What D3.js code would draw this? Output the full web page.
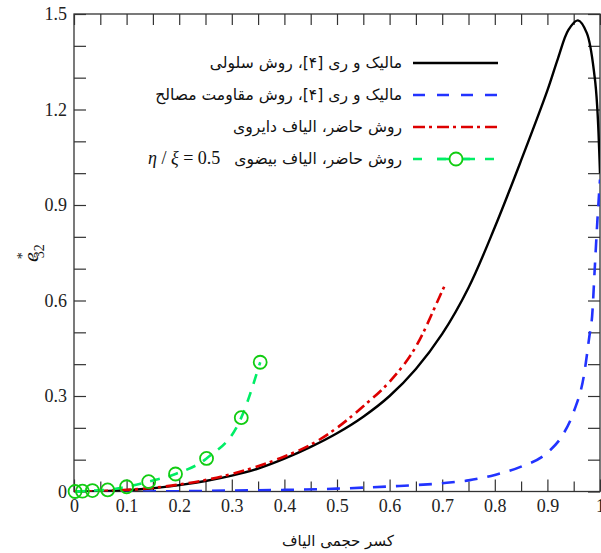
<!DOCTYPE html>
<html>
<head>
<meta charset="utf-8">
<script src="https://cdn.jsdelivr.net/npm/d3@7/dist/d3.min.js"></script>
<style>
  html, body { margin: 0; padding: 0; background: #fff; }
  svg { display: block; }
</style>
</head>
<body>
<div id="chart"></div>
<script>
'use strict';

// Malik & Ray [4], cellular method
let cellX = [0, 0.05, 0.1, 0.15, 0.2, 0.25, 0.3, 0.35, 0.4, 0.45, 0.5, 0.55, 0.6, 0.65, 0.7, 0.75, 0.8, 0.85, 0.9, 0.92, 0.94, 0.958, 0.975, 0.99, 0.995, 1.0];
let cellY = [0, 0.001, 0.004, 0.01, 0.02, 0.033, 0.05, 0.072, 0.103, 0.14, 0.183, 0.235, 0.3, 0.385, 0.495, 0.64, 0.83, 1.04, 1.26, 1.36, 1.45, 1.48, 1.44, 1.3, 1.2, 1.0];

// Malik & Ray [4], strength of materials
let somX = [0, 0.1, 0.2, 0.3, 0.4, 0.5, 0.6, 0.7, 0.75, 0.8, 0.85, 0.9, 0.93, 0.95, 0.97, 0.98, 0.985, 0.99, 0.995, 1.0];
let somY = [0, 0, 0.001, 0.003, 0.005, 0.009, 0.016, 0.026, 0.035, 0.052, 0.078, 0.122, 0.18, 0.25, 0.37, 0.49, 0.55, 0.7, 0.85, 0.98];

// present method, circular fibres
let circX = [0, 0.1, 0.2, 0.3, 0.4, 0.45, 0.5, 0.55, 0.6, 0.65, 0.7, 0.707];
let circY = [0, 0.005, 0.022, 0.055, 0.11, 0.147, 0.2, 0.268, 0.345, 0.455, 0.63, 0.655];

// present method, elliptic fibres, eta/xi = 0.5
let ellX = [0.002, 0.016, 0.035, 0.064, 0.1, 0.142, 0.193, 0.252, 0.318, 0.354];
let ellY = [0, 0.001, 0.003, 0.005, 0.015, 0.031, 0.055, 0.104, 0.232, 0.406];

let xTicks = [0, 0.1, 0.2, 0.3, 0.4, 0.5, 0.6, 0.7, 0.8, 0.9, 1];
let xMinor = [0.05, 0.15, 0.25, 0.35, 0.45, 0.55, 0.65, 0.75, 0.85, 0.95];
let yTicks = [0, 0.3, 0.6, 0.9, 1.2, 1.5];
let yMinor = [0.1, 0.2, 0.4, 0.5, 0.7, 0.8, 1.0, 1.1, 1.3, 1.4];

let legendLabels = [
    'مالیک و ری [۴]، روش سلولی',
    'مالیک و ری [۴]، روش مقاومت مصالح',
    'روش حاضر، الیاف دایروی',
    'روش حاضر، الیاف بیضوی'
];
let xTitle = 'کسر حجمی الیاف';

let W = 601, H = 553;
let serif = '"Liberation Serif", "Times New Roman", "DejaVu Serif", serif';
let persian = '"DejaVu Sans", "Noto Sans", sans-serif';
let x = d3.scaleLinear().domain([0, 1]).range([74, 600]);
let y = d3.scaleLinear().domain([0, 1.5]).range([491.5, 14]);

let svg = d3.select('#chart').append('svg')
    .attr('width', W)
    .attr('height', H);

svg.append('defs').append('clipPath').attr('id', 'plot')
    .append('rect')
    .attr('x', x(0)).attr('y', y(1.5))
    .attr('width', x(1) - x(0)).attr('height', y(0) - y(1.5));

function fmt(d) {
    return d === 0 ? '0' : (d === 1 ? '1' : d3.format('.1f')(d));
}

// frame
svg.append('rect')
    .attr('x', x(0)).attr('y', y(1.5))
    .attr('width', x(1) - x(0)).attr('height', y(0) - y(1.5))
    .attr('fill', 'none').attr('stroke', '#333').attr('stroke-width', 1.3);

function styleAxis(g) {
    g.attr('font-family', serif);
    g.select('.domain').remove();
    g.selectAll('.tick line').attr('stroke', '#333').attr('stroke-width', 1.2);
    g.selectAll('.tick text')
        .attr('font-family', serif)
        .attr('font-size', 18)
        .attr('fill', '#222');
}

// bottom
svg.append('g').attr('transform', 'translate(0,' + y(0) + ')')
    .call(d3.axisBottom(x).tickValues(xTicks).tickFormat(fmt).tickSizeInner(-12).tickSizeOuter(0).tickPadding(8))
    .call(styleAxis);
svg.append('g').attr('transform', 'translate(0,' + y(0) + ')')
    .call(d3.axisBottom(x).tickValues(xMinor).tickFormat('').tickSizeInner(-10).tickSizeOuter(0))
    .call(styleAxis);
// top
svg.append('g').attr('transform', 'translate(0,' + y(1.5) + ')')
    .call(d3.axisTop(x).tickValues(xTicks.concat(xMinor)).tickFormat('').tickSizeInner(-11).tickSizeOuter(0))
    .call(styleAxis);
// left
svg.append('g').attr('transform', 'translate(' + x(0) + ',0)')
    .call(d3.axisLeft(y).tickValues(yTicks).tickFormat(fmt).tickSizeInner(-12).tickSizeOuter(0).tickPadding(7))
    .call(styleAxis);
svg.append('g').attr('transform', 'translate(' + x(0) + ',0)')
    .call(d3.axisLeft(y).tickValues(yMinor).tickFormat('').tickSizeInner(-12).tickSizeOuter(0))
    .call(styleAxis);
// right
svg.append('g').attr('transform', 'translate(' + x(1) + ',0)')
    .call(d3.axisRight(y).tickValues(yTicks.concat(yMinor)).tickFormat('').tickSizeInner(-12).tickSizeOuter(0))
    .call(styleAxis);

let line = d3.line()
    .x(function (d) { return x(d[0]); })
    .y(function (d) { return y(d[1]); })
    .curve(d3.curveMonotoneX);

let sharpLine = d3.line()
    .x(function (d) { return x(d[0]); })
    .y(function (d) { return y(d[1]); })
    .curve(d3.curveCatmullRom.alpha(0.5));

function pairs(xs, ys) {
    return xs.map(function (v, i) { return [v, ys[i]]; });
}

let plot = svg.append('g').attr('clip-path', 'url(#plot)');

plot.append('path').datum(pairs(somX, somY))
    .attr('d', line)
    .attr('fill', 'none').attr('stroke', '#2233ff').attr('stroke-width', 2.6)
    .attr('stroke-dasharray', '13,10');

plot.append('path').datum(pairs(cellX, cellY))
    .attr('d', sharpLine)
    .attr('fill', 'none').attr('stroke', '#000').attr('stroke-width', 2.4)
    .attr('stroke-linejoin', 'round');

plot.append('path').datum(pairs(circX, circY))
    .attr('d', line)
    .attr('fill', 'none').attr('stroke', '#dd0000').attr('stroke-width', 2.6)
    .attr('stroke-dasharray', '11,4,3,5');

svg.append('path').datum(pairs(ellX, ellY))
    .attr('d', line)
    .attr('fill', 'none').attr('stroke', '#00ee66').attr('stroke-width', 2.6)
    .attr('stroke-dasharray', '10,9');

svg.selectAll('circle.ell').data(pairs(ellX, ellY)).enter()
    .append('circle').attr('class', 'ell')
    .attr('cx', function (d) { return x(d[0]); })
    .attr('cy', function (d) { return y(d[1]); })
    .attr('r', 6.5)
    .attr('fill', 'none').attr('stroke', '#11cc11').attr('stroke-width', 1.8);

// legend
let legendStyles = [
    { color: '#000', dash: null },
    { color: '#2233ff', dash: '12,12' },
    { color: '#dd0000', dash: '12,4,3,5' },
    { color: '#00ee66', dash: '9,15' }
];
let leg = svg.append('g');
legendLabels.forEach(function (lab, i) {
    let ly = 63 + i * 32;
    leg.append('line')
        .attr('x1', 413).attr('x2', 498).attr('y1', ly).attr('y2', ly)
        .attr('stroke', legendStyles[i].color).attr('stroke-width', 2.4)
        .attr('stroke-dasharray', legendStyles[i].dash);
    leg.append('text')
        .attr('x', 402).attr('y', ly + 5)
        .attr('text-anchor', 'start')
        .attr('direction', 'rtl')
        .attr('font-family', persian)
        .attr('font-size', 15.6)
        .attr('fill', '#111')
        .text(lab);
});
leg.append('line')
    .attr('x1', 437).attr('x2', 475).attr('y1', 159).attr('y2', 159)
    .attr('stroke', '#00ee66').attr('stroke-width', 2.4);
leg.append('circle')
    .attr('cx', 456).attr('cy', 159).attr('r', 6.5)
    .attr('fill', '#fff').attr('stroke', '#11cc11').attr('stroke-width', 1.8);

let eq = leg.append('text')
    .attr('x', 148).attr('y', 164)
    .attr('font-family', serif)
    .attr('font-size', 18)
    .attr('fill', '#111');
eq.append('tspan').attr('font-style', 'italic').text('η');
eq.append('tspan').text(' / ');
eq.append('tspan').attr('font-style', 'italic').text('ξ');
eq.append('tspan').text(' = 0.5');

// axis titles
svg.append('text')
    .attr('x', 338).attr('y', 546)
    .attr('text-anchor', 'middle')
    .attr('direction', 'rtl')
    .attr('font-family', persian)
    .attr('font-size', 15)
    .attr('fill', '#111')
    .text(xTitle);

let yt = svg.append('text')
    .attr('transform', 'translate(38,262) rotate(-90)')
    .attr('font-family', serif)
    .attr('fill', '#111');
yt.append('tspan').attr('font-style', 'italic').attr('font-size', 22).text('e');
yt.append('tspan').attr('font-size', 14).attr('dx', -7).attr('dy', -11).text('*');
yt.append('tspan').attr('font-size', 14).attr('dx', -6).attr('dy', 17).text('32');
</script>
</body>
</html>
